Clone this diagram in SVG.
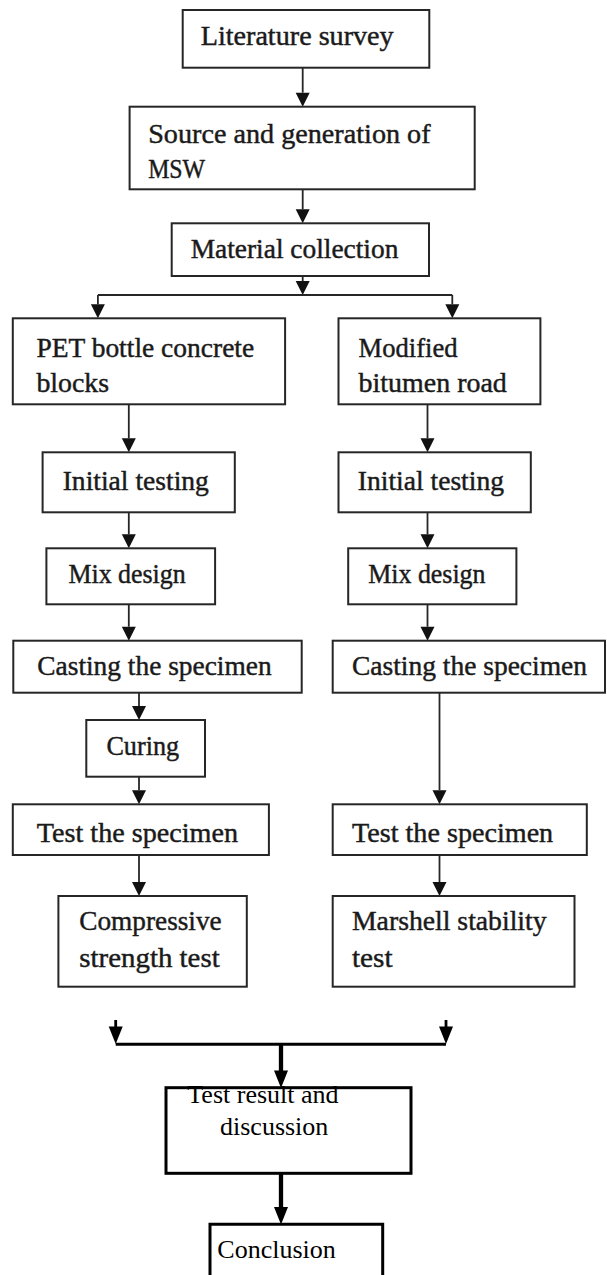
<svg xmlns="http://www.w3.org/2000/svg" width="607" height="1275" viewBox="0 0 607 1275">
<style>
.box{fill:#fff;stroke:#262626;stroke-width:2}
.boxb{fill:#fff;stroke:#000;stroke-width:3}
.t{font-family:"Liberation Serif","Times New Roman",serif;font-size:28px;fill:#1a1a1a;stroke:#1a1a1a;stroke-width:0.45}
.tb{font-family:"Liberation Serif","Times New Roman",serif;font-size:26px;fill:#000}
.c{fill:none;stroke:#262626;stroke-width:1.8;marker-end:url(#ah)}
.l{fill:none;stroke:#262626;stroke-width:1.8}
.hb{fill:#000;stroke:none}
</style>
<defs>
<marker id="ah" viewBox="0 0 14 14" refX="0" refY="7" markerWidth="14" markerHeight="14" orient="auto" markerUnits="userSpaceOnUse" overflow="visible"><path d="M0,0 L14,7 L0,14 z" fill="#111"/></marker>
</defs>
<rect width="607" height="1275" fill="#fff"/>
<g id="connectors">
<path class="c" d="M302.7,67.7 V92.7"/>
<path class="c" d="M302.7,189.3 V209.3"/>
<path class="c" d="M302.7,276 V281"/>
<path class="l" d="M97.9,295 H452.3"/>
<path class="c" d="M97.9,295 V304.3"/>
<path class="c" d="M452.3,295 V304.3"/>
<path class="c" d="M128.8,404.3 V438.3"/>
<path class="c" d="M128.8,512.3 V534.3"/>
<path class="c" d="M128.8,604.3 V626.7"/>
<path class="c" d="M139,692.7 V706"/>
<path class="c" d="M139,776.7 V790.3"/>
<path class="c" d="M139,855 V882"/>
<path class="c" d="M427.5,404.3 V438.3"/>
<path class="c" d="M427.5,512.3 V534.3"/>
<path class="c" d="M427.5,604.3 V626.7"/>
<path class="c" d="M439.5,692.7 V790.3"/>
<path class="c" d="M439.5,855 V882"/>
<path fill="none" stroke="#000" stroke-width="2.8" d="M115.7,1020 V1028 M446,1020 V1028"/>
<polygon class="hb" points="108.7,1026.5 122.7,1026.5 115.7,1044"/>
<polygon class="hb" points="439,1026.5 453,1026.5 446,1044"/>
<path fill="none" stroke="#000" stroke-width="3" d="M115.7,1044.3 H446"/>
<path fill="none" stroke="#000" stroke-width="4.3" d="M281,1044.3 V1071 M281,1173.3 V1208"/>
<polygon class="hb" points="274,1070.5 288,1070.5 281,1088"/>
<polygon class="hb" points="274,1207 288,1207 281,1224.5"/>
</g>
<g id="n-literature"><rect class="box" x="182.7" y="10" width="246.6" height="57.7"/><text class="t" x="200.7" y="44.5" textLength="193" lengthAdjust="spacingAndGlyphs">Literature survey</text></g>
<g id="n-source"><rect class="box" x="129.6" y="106.7" width="345.1" height="82.6"/><text class="t" x="148.2" y="142.7" textLength="282.4" lengthAdjust="spacingAndGlyphs">Source and generation of</text><text class="t" x="148.2" y="178.3" textLength="56.9" lengthAdjust="spacingAndGlyphs">MSW</text></g>
<g id="n-material"><rect class="box" x="171.7" y="223.3" width="257.3" height="52.7"/><text class="t" x="190.7" y="258.3" textLength="207.7" lengthAdjust="spacingAndGlyphs">Material collection</text></g>
<g id="n-pet"><rect class="box" x="12.8" y="318.3" width="272.3" height="86"/><text class="t" x="36.4" y="357.3" textLength="217.8" lengthAdjust="spacingAndGlyphs">PET bottle concrete</text><text class="t" x="36.4" y="392.3" textLength="72.7" lengthAdjust="spacingAndGlyphs">blocks</text></g>
<g id="n-bitumen"><rect class="box" x="338.5" y="318.3" width="201.9" height="86"/><text class="t" x="358.6" y="357.3" textLength="99" lengthAdjust="spacingAndGlyphs">Modified</text><text class="t" x="358.6" y="392.3" textLength="148.2" lengthAdjust="spacingAndGlyphs">bitumen road</text></g>
<g id="n-init-l"><rect class="box" x="42.6" y="452.3" width="192.2" height="60"/><text class="t" x="62.7" y="490" textLength="146.2" lengthAdjust="spacingAndGlyphs">Initial testing</text></g>
<g id="n-init-r"><rect class="box" x="338.5" y="452.3" width="192.3" height="60"/><text class="t" x="357.8" y="490" textLength="146.2" lengthAdjust="spacingAndGlyphs">Initial testing</text></g>
<g id="n-mix-l"><rect class="box" x="46.4" y="548.3" width="168.7" height="56"/><text class="t" x="68.5" y="583.3" textLength="117.2" lengthAdjust="spacingAndGlyphs">Mix design</text></g>
<g id="n-mix-r"><rect class="box" x="348.2" y="548.3" width="168.2" height="56"/><text class="t" x="368.3" y="583.3" textLength="117.2" lengthAdjust="spacingAndGlyphs">Mix design</text></g>
<g id="n-cast-l"><rect class="box" x="13.3" y="640.7" width="288.4" height="52"/><text class="t" x="37.3" y="674.5" textLength="234.3" lengthAdjust="spacingAndGlyphs">Casting the specimen</text></g>
<g id="n-cast-r"><rect class="box" x="332.7" y="640.7" width="272.3" height="52"/><text class="t" x="352" y="674.5" textLength="235" lengthAdjust="spacingAndGlyphs">Casting the specimen</text></g>
<g id="n-curing"><rect class="box" x="86.3" y="720" width="118.7" height="56.7"/><text class="t" x="106.4" y="755" textLength="72.7" lengthAdjust="spacingAndGlyphs">Curing</text></g>
<g id="n-test-l"><rect class="box" x="12.8" y="804.3" width="256.1" height="50.7"/><text class="t" x="36.8" y="841.7" textLength="201.2" lengthAdjust="spacingAndGlyphs">Test the specimen</text></g>
<g id="n-test-r"><rect class="box" x="332.7" y="804.3" width="254.1" height="50.7"/><text class="t" x="352" y="841.7" textLength="201.2" lengthAdjust="spacingAndGlyphs">Test the specimen</text></g>
<g id="n-compressive"><rect class="box" x="58.4" y="896" width="188.4" height="90.7"/><text class="t" x="79.3" y="930" textLength="142.4" lengthAdjust="spacingAndGlyphs">Compressive</text><text class="t" x="79.3" y="966.7" textLength="140.4" lengthAdjust="spacingAndGlyphs">strength test</text></g>
<g id="n-marshell"><rect class="box" x="332.7" y="896" width="241.8" height="90.7"/><text class="t" x="352" y="930" textLength="194.6" lengthAdjust="spacingAndGlyphs">Marshell stability</text><text class="t" x="352" y="966.7" textLength="40.6" lengthAdjust="spacingAndGlyphs">test</text></g>
<g id="n-result"><rect class="boxb" x="166" y="1087.7" width="245" height="85.6"/><text class="tb" x="187.3" y="1103.3">Test result and</text><text class="tb" x="220" y="1135">discussion</text></g>
<g id="n-conclusion"><path fill="#fff" stroke="#000" stroke-width="3" d="M210,1275 V1224.3 H382.7 V1275"/><text class="tb" x="217.3" y="1257.7">Conclusion</text></g>
</svg>
